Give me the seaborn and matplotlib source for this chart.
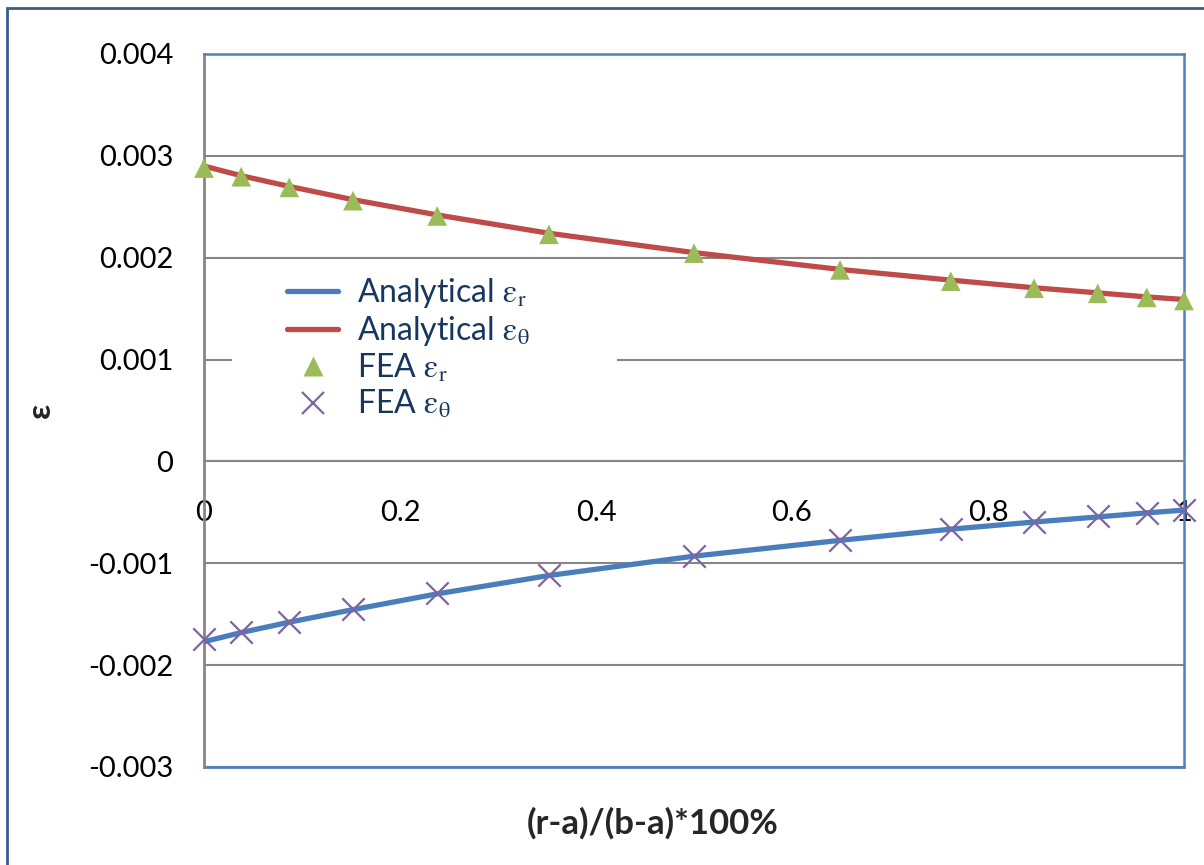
#!/usr/bin/env python3
"""strain distribution across the wall: analytical vs FEA"""

import matplotlib
matplotlib.use("Agg")
import matplotlib.pyplot as plt
from matplotlib.lines import Line2D
from matplotlib.patches import Rectangle
import seaborn as sns

# normalised radial position
pos = [0, 0.038, 0.087, 0.152, 0.238, 0.352, 0.5, 0.649, 0.762, 0.847, 0.912, 0.962, 1.0]

# analytical strains
ana_r = [-0.001770, -0.001680, -0.001578, -0.001455, -0.001300, -0.001120,
         -0.000930, -0.000775, -0.000665, -0.000595, -0.000545, -0.000505, -0.000478]
ana_t = [0.002900, 0.002805, 0.002700, 0.002570, 0.002420, 0.002240,
         0.002050, 0.001885, 0.001780, 0.001705, 0.001655, 0.001615, 0.001590]

# FEA strains
fea_r = [0.002880, 0.002795, 0.002690, 0.002560, 0.002410, 0.002230,
         0.002045, 0.001880, 0.001770, 0.001700, 0.001650, 0.001610, 0.001580]
fea_t = [-0.001745, -0.001670, -0.001574, -0.001450, -0.001295, -0.001115,
         -0.000930, -0.000770, -0.000660, -0.000592, -0.000540, -0.000502, -0.000475]

yticks = [-0.003, -0.002, -0.001, 0, 0.001, 0.002, 0.003, 0.004]
ytick_labels = ["-0.003", "-0.002", "-0.001", "0", "0.001", "0.002", "0.003", "0.004"]
xticks = [0, 0.2, 0.4, 0.6, 0.8, 1]
xtick_labels = ["0", "0.2", "0.4", "0.6", "0.8", "1"]

BLUE = "#4a7ebb"
RED = "#be4b48"
GREEN = "#9bbb59"
PURPLE = "#8064a2"
GRID = "#868686"
FRAME = "#4f81bd"
NAVY = "#17375e"

sns.set_style("white")
plt.rcParams["font.family"] = ["Lato", "DejaVu Sans"]
plt.rcParams["mathtext.fontset"] = "stix"
plt.rcParams["mathtext.default"] = "rm"

fig = plt.figure(figsize=(12.04, 8.65), dpi=100)
ax = fig.add_axes([204 / 1204, 1 - 767 / 865, 980 / 1204, 713 / 865])

sns.lineplot(x=pos, y=ana_r, color=BLUE, linewidth=3.8, ax=ax, zorder=3)
sns.lineplot(x=pos, y=ana_t, color=RED, linewidth=3.8, ax=ax, zorder=3)
sns.scatterplot(x=pos, y=fea_r, marker="^", s=200, color=GREEN, edgecolor="none",
                ax=ax, zorder=4, clip_on=False)
sns.scatterplot(x=pos, y=fea_t, marker="x", s=260, color=PURPLE, linewidth=1.6,
                ax=ax, zorder=4, clip_on=False)

ax.set_xlim(0, 1)
ax.set_ylim(-0.003, 0.004)
ax.set_yticks(yticks)
ax.set_yticklabels(ytick_labels)
ax.set_xticks(xticks)
ax.set_xticklabels(xtick_labels)
ax.tick_params(axis="both", length=0, labelsize=21, colors="black")
ax.tick_params(axis="y", pad=22)
ax.tick_params(axis="x", pad=28)

ax.grid(False)
for y in yticks:
    ax.axhline(y, color=GRID, linewidth=1.5, zorder=1)

ax.spines["bottom"].set_position(("data", 0))
ax.spines["bottom"].set_color(GRID)
ax.spines["bottom"].set_linewidth(1.5)
ax.spines["left"].set_color(GRID)
ax.spines["left"].set_linewidth(2)
ax.spines["left"].set_zorder(2)
ax.spines["top"].set_color(FRAME)
ax.spines["right"].set_color(FRAME)
ax.spines["top"].set_linewidth(1.8)
ax.spines["right"].set_linewidth(1.8)
ax.plot([0, 1], [0, 0], transform=ax.transAxes, color=FRAME, linewidth=2,
        clip_on=False, zorder=2)

ax.set_xlabel("")
ax.set_ylabel("")
fig.text(40 / 1204, 1 - 410 / 865, "ε", rotation=90, fontsize=24, fontweight="bold",
         ha="center", va="center")
fig.text(653 / 1204, 1 - 823 / 865, "(r-a)/(b-a)*100%", fontsize=25,
         fontweight="bold", ha="center", va="center")

# white legend area (Excel legend box hides the gridline behind it)
ax.add_patch(Rectangle(((232 - 204) / 980, (767 - 430) / 713), (617 - 232) / 980,
                       (430 - 268) / 713, transform=ax.transAxes,
                       facecolor="white", edgecolor="none", zorder=1.5))

handles = [
    Line2D([], [], color=BLUE, linewidth=3.8),
    Line2D([], [], color=RED, linewidth=3.8),
    Line2D([], [], color=GREEN, marker="^", markersize=14, linestyle="none",
           markeredgecolor="none"),
    Line2D([], [], color=PURPLE, marker="x", markersize=16, linestyle="none",
           markeredgewidth=1.6),
]
labels = [r"Analytical $\varepsilon_r$", r"Analytical $\varepsilon_\theta$",
          r"FEA $\varepsilon_r$", r"FEA $\varepsilon_\theta$"]
leg = ax.legend(handles, labels, loc="upper left",
                bbox_to_anchor=((287 - 204) / 980, (767 - 276) / 713),
                fontsize=23, frameon=False, handlelength=1.6,
                handletextpad=0.6, labelspacing=0.12, borderpad=0,
                borderaxespad=0)
for t in leg.get_texts():
    t.set_color(NAVY)

fig.patches.append(Rectangle((7 / 1204, -0.1), 1.2, 1 - 8 / 865 + 0.1,
                             transform=fig.transFigure, fill=False,
                             edgecolor="#385d8a", linewidth=2))

fig.savefig("out.png", dpi=100, facecolor="white")
